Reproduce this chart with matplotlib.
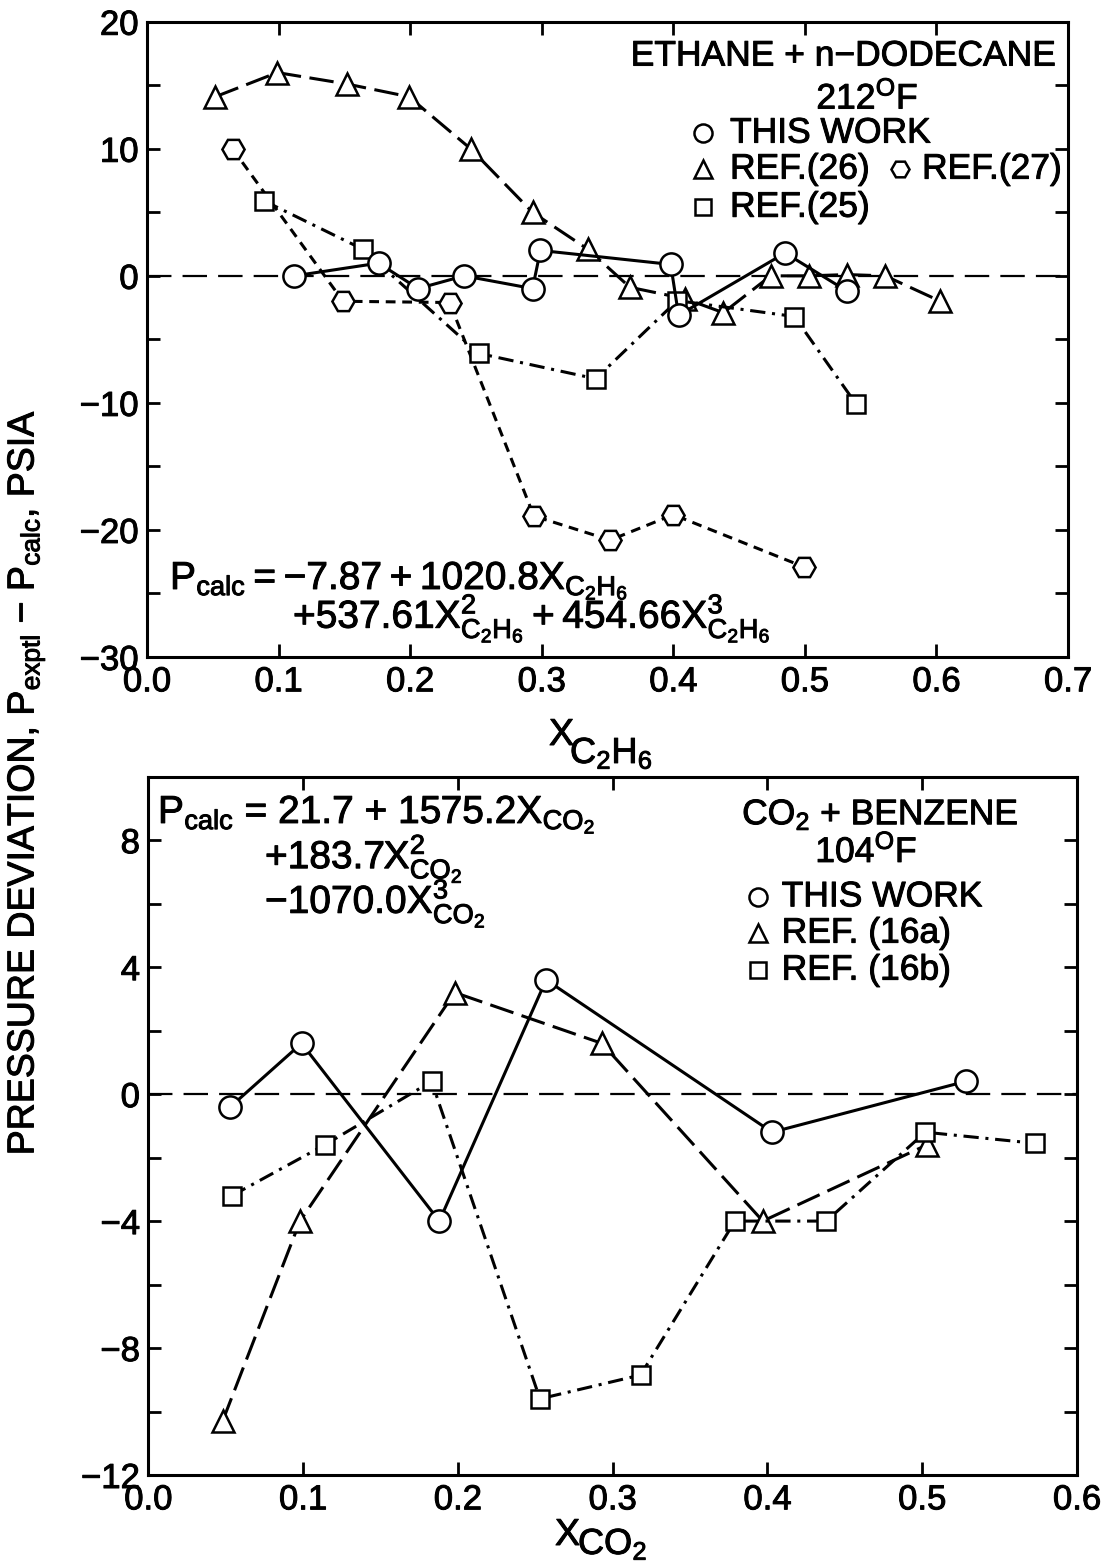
import matplotlib
matplotlib.use('Agg')
import matplotlib.pyplot as plt
import matplotlib.patheffects as pe
from matplotlib.text import Text
from matplotlib.ticker import MultipleLocator

plt.rcParams['font.family'] = ['Liberation Sans', 'DejaVu Sans']
plt.rcParams['mathtext.default'] = 'regular'
plt.rcParams['font.size'] = 25

# ethane + n-dodecane, 212 F
eth_this_x = [0.112, 0.176, 0.206, 0.241, 0.293, 0.299, 0.398, 0.404, 0.485, 0.532]
eth_this_y = [0.0, 1.0, -1.0, 0.0, -1.0, 2.0, 0.9, -3.1, 1.8, -1.2]
eth_ref26_x = [0.052, 0.099, 0.152, 0.199, 0.246, 0.293, 0.335, 0.367, 0.409,
               0.438, 0.474, 0.503, 0.532, 0.561, 0.603]
eth_ref26_y = [14.1, 16.0, 15.1, 14.1, 10.0, 5.0, 2.1, -0.9, -1.8,
               -2.9, 0.0, 0.0, 0.1, 0.0, -2.0]
eth_ref27_x = [0.065, 0.149, 0.230, 0.294, 0.352, 0.400, 0.499]
eth_ref27_y = [10.0, -2.0, -2.1, -18.9, -20.8, -18.8, -22.9]
eth_ref25_x = [0.089, 0.164, 0.252, 0.341, 0.403, 0.492, 0.539]
eth_ref25_y = [5.9, 2.1, -6.1, -8.1, -1.95, -3.2, -10.1]

# CO2 + benzene, 104 F
co2_this_x = [0.053, 0.099, 0.188, 0.257, 0.403, 0.528]
co2_this_y = [-0.4, 1.6, -4.0, 3.6, -1.2, 0.4]
co2_16a_x = [0.048, 0.098, 0.198, 0.293, 0.397, 0.503]
co2_16a_y = [-10.3, -4.0, 3.2, 1.6, -4.0, -1.6]
co2_16b_x = [0.054, 0.114, 0.183, 0.253, 0.318, 0.379, 0.438, 0.502, 0.573]
co2_16b_y = [-3.2, -1.6, 0.4, -9.6, -8.85, -4.0, -4.0, -1.2, -1.55]

LW = 2.2
solid = '-'
long_dash = (0, (8, 2.8))
short_dash = (0, (3.2, 2.2))
dash_dot = (0, (5, 2.2, 1, 2.2))
LEG = 25.5   # legend / title text
EQ = 28      # equation text


def series(ax, x, y, marker, ls, ms=16):
    ax.plot(x, y, color='black', lw=LW, linestyle=ls, marker=marker, ms=ms,
            mfc='white', mec='black', mew=1.8, zorder=3)


def style(ax):
    ax.tick_params(which='both', direction='in', top=True, right=True,
                   length=9.5, width=2, labelsize=25, pad=6)
    for s in ax.spines.values():
        s.set_linewidth(2.2)
    ax.axhline(0, color='black', lw=1.6, dashes=(11, 5), zorder=1)


def key(ax, x, y, marker, ms=13):
    ax.plot([x], [y], marker=marker, ms=ms, mfc='white', mec='black', mew=1.8,
            transform=ax.transAxes, clip_on=False, ls='none')


fig = plt.figure(figsize=(11.07, 15.65), dpi=100)
ax1 = fig.add_axes([0.1328, 0.5802, 0.832, 0.4059])
ax2 = fig.add_axes([0.1340, 0.0575, 0.8389, 0.4462])

# top panel
series(ax1, eth_ref26_x, eth_ref26_y, '^', long_dash)
series(ax1, eth_ref27_x, eth_ref27_y, 'H', short_dash)
series(ax1, eth_ref25_x, eth_ref25_y, 's', dash_dot, ms=13)
series(ax1, eth_this_x, eth_this_y, 'o', solid)
ax1.set_xlim(0, 0.7)
ax1.set_ylim(-30, 20)
ax1.xaxis.set_major_locator(MultipleLocator(0.1))
ax1.yaxis.set_major_locator(MultipleLocator(10))
ax1.yaxis.set_minor_locator(MultipleLocator(5))
style(ax1)

ax1.text(0.7557, 0.946, 'ETHANE + n\u2212DODECANE', transform=ax1.transAxes,
         ha='center', va='center', fontsize=LEG)
ax1.text(0.782, 0.881, '212$^{O}$F', transform=ax1.transAxes, ha='center',
         va='center', fontsize=LEG)
key(ax1, 0.6037, 0.8247, 'o')
ax1.text(0.633, 0.8247, 'THIS WORK', transform=ax1.transAxes, va='center', fontsize=LEG)
key(ax1, 0.6037, 0.768, '^')
ax1.text(0.633, 0.768, 'REF.(26)', transform=ax1.transAxes, va='center', fontsize=LEG)
key(ax1, 0.8176, 0.768, 'H')
ax1.text(0.8415, 0.768, 'REF.(27)', transform=ax1.transAxes, va='center', fontsize=LEG)
key(ax1, 0.6037, 0.708, 's', ms=11)
ax1.text(0.633, 0.708, 'REF.(25)', transform=ax1.transAxes, va='center', fontsize=LEG)

ax1.text(0.025, 0.107, r'$P_{calc} = -7.87 + 1020.8X_{C_2H_6}$',
         transform=ax1.transAxes, va='baseline', fontsize=EQ)
ax1.text(0.1585, 0.046, r'$+537.61X^{2}_{C_2H_6} + 454.66X^{3}_{C_2H_6}$',
         transform=ax1.transAxes, va='baseline', fontsize=EQ)

# bottom panel
series(ax2, co2_16a_x, co2_16a_y, '^', long_dash)
series(ax2, co2_16b_x, co2_16b_y, 's', dash_dot, ms=13)
series(ax2, co2_this_x, co2_this_y, 'o', solid)
ax2.set_xlim(0, 0.6)
ax2.set_ylim(-12, 10)
ax2.xaxis.set_major_locator(MultipleLocator(0.1))
ax2.set_yticks([-12, -8, -4, 0, 4, 8])
ax2.yaxis.set_minor_locator(MultipleLocator(2))
style(ax2)

ax2.text(0.788, 0.945, 'CO$_2$ + BENZENE', transform=ax2.transAxes,
         ha='center', va='center', fontsize=LEG)
ax2.text(0.773, 0.894, '104$^{O}$F', transform=ax2.transAxes, ha='center',
         va='center', fontsize=LEG)
key(ax2, 0.656, 0.828, 'o')
ax2.text(0.682, 0.828, 'THIS WORK', transform=ax2.transAxes, va='center', fontsize=LEG)
key(ax2, 0.656, 0.776, '^')
ax2.text(0.682, 0.776, 'REF. (16a)', transform=ax2.transAxes, va='center', fontsize=LEG)
key(ax2, 0.656, 0.723, 's', ms=11)
ax2.text(0.682, 0.723, 'REF. (16b)', transform=ax2.transAxes, va='center', fontsize=LEG)

ax2.text(0.0104, 0.9337, r'$P_{calc}$ = 21.7 + 1575.2X$_{CO_2}$',
         transform=ax2.transAxes, va='baseline', fontsize=EQ)
ax2.text(0.1256, 0.869, r'+183.7X$^{2}_{CO_2}$', transform=ax2.transAxes,
         va='baseline', fontsize=EQ)
ax2.text(0.1256, 0.805, '\u22121070.0X$^{3}_{CO_2}$', transform=ax2.transAxes,
         va='baseline', fontsize=EQ)

# axis titles (X with a lowered, nearly full-size subscript as in the original)
fig.text(549 / 1107, 1 - 745 / 1565, 'X', va='baseline', fontsize=27)
fig.text(570 / 1107, 1 - 763 / 1565, 'C$_2$H$_6$', va='baseline', fontsize=26)
fig.text(555 / 1107, 1 - 1545 / 1565, 'X', va='baseline', fontsize=27)
fig.text(578 / 1107, 1 - 1554 / 1565, 'CO$_2$', va='baseline', fontsize=26)
fig.text(0.0235, 0.500,
         'PRESSURE DEVIATION, P$_{exptl}$ \u2212 P$_{calc}$, PSIA',
         rotation=90, ha='center', va='center', fontsize=27)

# the scanned lettering is heavier than the plain font
for t in fig.findobj(Text):
    t.set_path_effects([pe.withStroke(linewidth=0.7, foreground='black')])

fig.savefig('out.png', dpi=100)
